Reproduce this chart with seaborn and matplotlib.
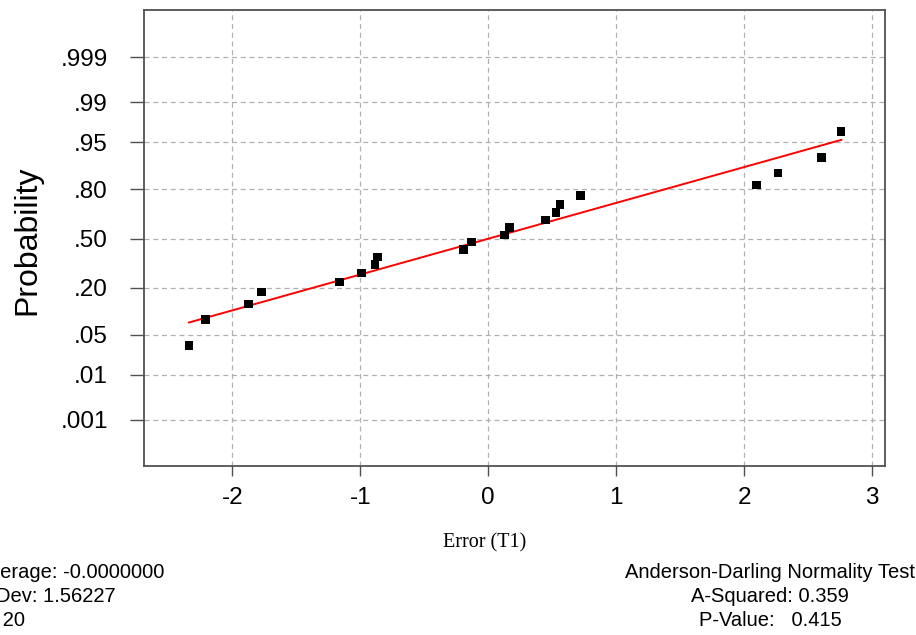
import numpy as np
import pandas as pd
import matplotlib
matplotlib.use("Agg")
import matplotlib.pyplot as plt
import seaborn as sns
from statistics import NormalDist

# ---- data ----
error_vals = [-2.34, -2.21, -1.875, -1.77, -1.164, -0.992, -0.885, -0.867, -0.193, -0.130,
              0.125, 0.167, 0.448, 0.529, 0.562, 0.719, 2.096, 2.263, 2.604, 2.755]
probabilities = [0.034, 0.083, 0.132, 0.181, 0.230, 0.279, 0.328, 0.378, 0.427, 0.476,
                 0.524, 0.574, 0.623, 0.672, 0.721, 0.770, 0.819, 0.868, 0.917, 0.966]
fit_x = [-2.34, 2.76]
fit_p = [0.076, 0.954]
y_ticks = [0.001, 0.01, 0.05, 0.20, 0.50, 0.80, 0.95, 0.99, 0.999]
y_ticklabels = [".001", ".01", ".05", ".20", ".50", ".80", ".95", ".99", ".999"]
x_ticks = [-2, -1, 0, 1, 2, 3]
stats_left = ["Average: -0.0000000", "StDev: 1.56227", "N: 20"]
stats_right = ["Anderson-Darling Normality Test", "A-Squared: 0.359", "P-Value:   0.415"]

points = pd.DataFrame({"Error (T1)": error_vals, "Probability": probabilities})
fit = pd.DataFrame({"x": fit_x, "p": fit_p})

sns.set_theme(style="white")
plt.rcParams["font.family"] = ["Liberation Sans", "DejaVu Sans"]
plt.rcParams["text.color"] = "black"
plt.rcParams["axes.labelcolor"] = "black"
plt.rcParams["xtick.labelcolor"] = "black"
plt.rcParams["ytick.labelcolor"] = "black"

nd = NormalDist()
_ppf = np.vectorize(nd.inv_cdf, otypes=[float])
_cdf = np.vectorize(nd.cdf, otypes=[float])


def forward(p):
    p = np.clip(np.asarray(p, dtype=float), 1e-12, 1 - 1e-12)
    return _ppf(p)


def inverse(z):
    return _cdf(np.asarray(z, dtype=float))


fig = plt.figure(figsize=(9.16, 6.35), dpi=100)
ax = fig.add_axes([144 / 916, 1 - 466 / 635, (885 - 144) / 916, (466 - 10) / 635])
ax.set_yscale("function", functions=(forward, inverse))

sns.lineplot(data=fit, x="x", y="p", color="#ff0000", linewidth=1.4, ax=ax)
sns.scatterplot(data=points, x="Error (T1)", y="Probability", marker="s", s=38,
                color="black", edgecolor="none", ax=ax, zorder=3)

ax.set_xlim(-2.69, 3.10)
ax.set_ylim(nd.cdf(-3.88), nd.cdf(3.90))
ax.set_xticks(x_ticks)
ax.set_xticklabels([str(t) for t in x_ticks])
ax.set_yticks(y_ticks)
ax.set_yticklabels(y_ticklabels)
ax.yaxis.set_minor_locator(matplotlib.ticker.NullLocator())

ax.grid(True, color="#b0b0b0", linestyle=(0, (4, 3)), linewidth=0.9)
for s in ax.spines.values():
    s.set_color("#505050")
    s.set_linewidth(1.3)

ax.tick_params(axis="y", which="major", direction="out", length=10, width=1, color="#505050",
               labelsize=17.5, pad=16, left=True, labelcolor="black")
ax.tick_params(axis="x", which="major", direction="out", length=7, width=1, color="#505050",
               labelsize=17.5, pad=8, bottom=True, labelcolor="black")

ax.set_xlabel("")
ax.set_ylabel("Probability", fontsize=23, color="black")
ax.yaxis.set_label_coords(-0.158, 0.495)
ax.yaxis.label.set_va("center")

fig.text(485 / 916, 1 - 543 / 635, "Error (T1)", family=["Liberation Serif", "DejaVu Serif"],
         fontsize=14.5, ha="center", va="center", color="black")

for i, t in enumerate(stats_left):
    fig.text(-23 / 916, 1 - (573 + 24 * i) / 635, t, fontsize=14.5, ha="left", va="center",
             color="black")
for i, t in enumerate(stats_right):
    fig.text(770 / 916, 1 - (573 + 24 * i) / 635, t, fontsize=14.5, ha="center", va="center",
             color="black")

fig.savefig("out.png", dpi=100)
